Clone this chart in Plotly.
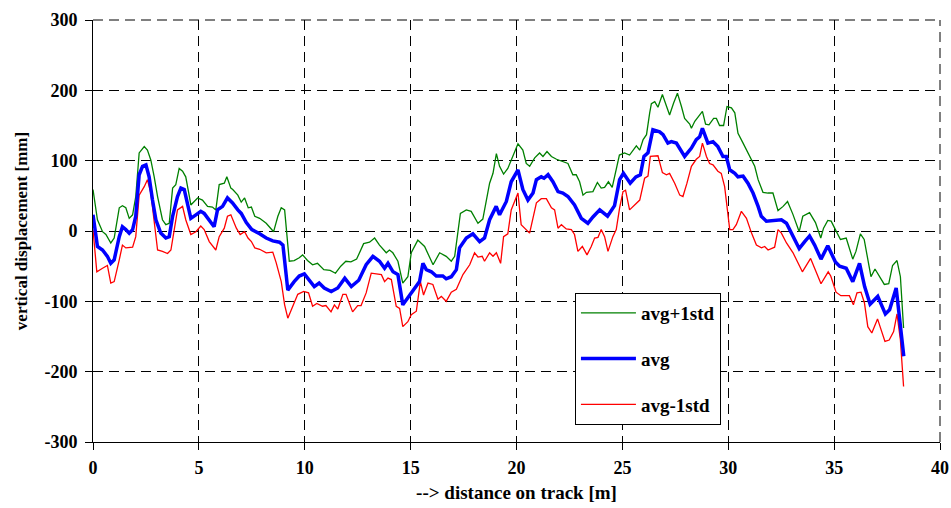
import plotly.graph_objects as go

# avg (blue)
x_avg = [0.0, 0.21, 0.45, 0.68, 0.84, 1.0, 1.24, 1.39, 1.55, 1.71, 1.87, 2.02, 2.18, 2.34, 2.5, 2.65, 2.81, 2.97,
         3.2, 3.44, 3.6, 3.76, 3.99, 4.15, 4.31, 4.46, 4.62, 4.86, 5.09, 5.25, 5.49, 5.72, 5.88, 6.12, 6.35, 6.59,
         6.84, 7.0, 7.24, 7.5, 7.87, 8.18, 8.49, 8.81, 8.97, 9.2, 9.5, 9.74, 9.98, 10.21, 10.45, 10.68, 10.92,
         11.25, 11.56, 11.89, 12.2, 12.55, 12.9, 13.22, 13.53, 13.77, 13.93, 14.17, 14.4, 14.63, 14.87, 15.19,
         15.42, 15.58, 15.74, 15.98, 16.21, 16.52, 16.68, 16.92, 17.16, 17.31, 17.63, 17.94, 18.26, 18.49, 18.73,
         19.04, 19.2, 19.52, 19.75, 20.07, 20.3, 20.54, 20.78, 20.94, 21.17, 21.3, 21.49, 21.72, 21.96, 22.19,
         22.43, 22.74, 23.06, 23.37, 23.61, 23.93, 24.3, 24.63, 24.87, 25.05, 25.37, 25.64, 25.85, 26.02, 26.21,
         26.44, 26.76, 26.92, 27.15, 27.31, 27.55, 27.94, 28.26, 28.49, 28.65, 28.78, 29.04, 29.28, 29.51, 29.75,
         29.91, 30.07, 30.31, 30.46, 30.7, 30.93, 31.17, 31.41, 31.56, 31.8, 32.11, 32.51, 32.75, 33.06, 33.35,
         33.61, 33.84, 34.08, 34.38, 34.7, 35.06, 35.26, 35.57, 35.88, 36.2, 36.44, 36.7, 37.06, 37.42, 37.62,
         37.93, 38.29]
avg = [23, -22, -27, -36, -46, -41, -8, 6, 2, -3, 2, 21, 80, 92, 94, 77, 44, 16,
       -3, -10, -8, 21, 49, 61, 59, 40, 18, 23, 28, 25, 16, 6, 30, 35, 47, 40,
       30, 25, 12, 2, -4, -10, -14, -16, -20, -84, -72, -64, -61, -69, -79, -74, -81,
       -86, -81, -67, -79, -70, -48, -36, -43, -53, -46, -58, -62, -105, -95, -81,
       -72, -46, -55, -58, -64, -64, -68, -65, -55, -24, -10, -4, -15, -10, 16,
       35, 23, 42, 70, 87, 59, 44, 54, 73, 77, 75, 80, 70, 56, 54,
       49, 37, 18, 11, 20, 30, 21, 36, 73, 82, 68, 77, 80, 106, 111,
       144, 141, 137, 125, 127, 125, 106, 118, 130, 134, 146, 125, 127, 120, 106,
       106, 87, 82, 77, 78, 68, 54, 35, 21, 14, 15, 16, 11, -8, -25,
       -15, -7, -20, -40, -21, -44, -50, -53, -72, -46, -79, -104, -93, -118, -112,
       -81, -178]

# avg + 1 std (green)
x_up = [0.0, 0.21, 0.45, 0.61, 0.84, 1.0, 1.24, 1.39, 1.55, 1.71, 1.87, 2.02, 2.18, 2.42, 2.57, 2.73, 2.89, 3.05,
        3.28, 3.44, 3.6, 3.76, 3.91, 4.07, 4.23, 4.38, 4.54, 4.62, 4.94, 5.17, 5.41, 5.64, 5.8, 5.96, 6.2, 6.32,
        6.51, 6.6, 6.84, 7.0, 7.16, 7.33, 7.48, 7.64, 7.87, 8.18, 8.53, 8.73, 8.89, 9.05, 9.27, 9.5, 9.74, 9.9,
        10.13, 10.37, 10.6, 10.9, 11.2, 11.45, 11.7, 11.94, 12.18, 12.45, 12.78, 13.06, 13.3, 13.53, 13.85, 14.0,
        14.16, 14.4, 14.63, 14.87, 15.03, 15.34, 15.66, 16.06, 16.37, 16.68, 16.92, 17.08, 17.35, 17.63, 17.86,
        18.18, 18.41, 18.73, 18.89, 19.05, 19.2, 19.39, 19.59, 19.83, 20.07, 20.3, 20.46, 20.62, 20.86, 21.09,
        21.25, 21.44, 21.65, 21.89, 22.2, 22.43, 22.66, 22.82, 22.98, 23.14, 23.3, 23.61, 23.82, 24.0, 24.16,
        24.34, 24.52, 24.68, 24.86, 25.1, 25.34, 25.66, 25.82, 25.98, 26.14, 26.29, 26.37, 26.53, 26.68, 26.89,
        27.08, 27.23, 27.42, 27.6, 27.79, 27.94, 28.18, 28.26, 28.42, 28.62, 28.78, 28.93, 29.09, 29.31, 29.44,
        29.59, 29.78, 29.94, 30.15, 30.31, 30.46, 30.7, 30.93, 31.25, 31.41, 31.64, 31.88, 32.11, 32.35, 32.59,
        32.8, 33.05, 33.35, 33.52, 33.84, 34.12, 34.37, 34.5, 34.7, 34.86, 35.06, 35.3, 35.57, 35.88, 36.03,
        36.24, 36.42, 36.74, 36.93, 37.14, 37.37, 37.58, 37.76, 37.97, 38.13, 38.28]
upper = [59, 16, -1, -5, -17, -10, 33, 36, 33, 18, 23, 49, 111, 120, 115, 101, 77, 49,
         16, 9, 11, 61, 66, 89, 85, 77, 51, 37, 47, 44, 35, 34, 30, 66, 68, 77,
         61, 59, 51, 41, 47, 33, 34, 21, 18, 11, -1, 21, 33, 30, -43, -42, -38, -34,
         -42, -48, -46, -55, -56, -60, -50, -43, -44, -40, -18, -16, -10, -20, -31, -27,
         -31, -43, -74, -65, -31, -13, -22, -48, -31, -36, -43, -36, 25, 30, 28,
         11, 17, 68, 82, 110, 92, 81, 89, 108, 124, 115, 96, 92, 104, 111,
         106, 113, 106, 102, 98, 96, 80, 80, 70, 51, 55, 56, 69, 61, 62,
         70, 62, 82, 108, 111, 108, 121, 115, 130, 137, 168, 181, 184, 176, 194,
         177, 165, 182, 196, 177, 160, 152, 146, 156, 163, 170, 152, 151, 160, 160,
         150, 150, 177, 175, 168, 139, 125, 111, 92, 73, 55, 54, 54, 29, 35,
         42, 24, -1, 21, 26, 12, -10, 4, 15, 14, 2, -12, -10, -40, -29,
         -4, -12, -65, -54, -65, -76, -75, -49, -42, -65, -138]

# avg - 1 std (red)
x_low = [0.0, 0.18, 0.45, 0.68, 0.84, 1.0, 1.24, 1.39, 1.55, 1.87, 2.02, 2.18, 2.42, 2.57, 2.73, 2.89, 3.05, 3.28,
         3.52, 3.68, 3.84, 3.99, 4.23, 4.38, 4.62, 4.86, 5.09, 5.25, 5.49, 5.8, 5.96, 6.2, 6.35, 6.51, 6.77, 6.95,
         7.16, 7.32, 7.48, 7.64, 7.87, 8.18, 8.49, 8.65, 8.89, 9.05, 9.2, 9.43, 9.67, 9.95, 10.18, 10.37, 10.57,
         10.84, 11.0, 11.24, 11.4, 11.56, 11.8, 11.95, 12.26, 12.5, 12.66, 12.9, 13.14, 13.38, 13.62, 13.77, 13.93,
         14.09, 14.32, 14.48, 14.63, 14.87, 15.03, 15.27, 15.46, 15.61, 15.82, 16.05, 16.29, 16.45, 16.68, 16.92,
         17.16, 17.47, 17.79, 18.02, 18.18, 18.38, 18.49, 18.73, 18.89, 19.05, 19.25, 19.39, 19.59, 19.75, 20.07,
         20.22, 20.62, 20.94, 21.17, 21.41, 21.65, 21.8, 21.96, 22.12, 22.35, 22.59, 22.74, 22.9, 23.11, 23.33,
         23.53, 23.69, 23.85, 24.0, 24.16, 24.32, 24.55, 24.71, 24.87, 25.03, 25.15, 25.34, 25.58, 25.82, 26.05,
         26.21, 26.32, 26.68, 26.89, 27.08, 27.23, 27.47, 27.71, 27.86, 28.05, 28.26, 28.49, 28.65, 28.78, 28.97,
         29.12, 29.28, 29.51, 29.67, 29.83, 29.96, 30.07, 30.22, 30.38, 30.62, 30.86, 31.1, 31.33, 31.57, 31.72,
         31.88, 32.19, 32.35, 32.51, 32.75, 33.06, 33.5, 33.89, 34.38, 34.72, 34.84, 35.09, 35.32, 35.72, 35.91,
         36.08, 36.27, 36.43, 36.59, 36.78, 37.05, 37.4, 37.6, 37.81, 37.97, 38.13, 38.28]
lower = [2, -58, -53, -49, -74, -72, -41, -20, -24, -23, -8, 51, 63, 73, 54, 16, -27, -29,
         -32, -27, 6, 30, 35, 16, -5, -1, 7, 2, -15, -27, -8, 4, 21, 23, 4, -5,
         -1, -10, -15, -24, -26, -31, -30, -45, -72, -105, -124, -108, -90, -86, -88, -107, -103,
         -107, -106, -115, -105, -111, -90, -90, -115, -106, -106, -88, -60, -61, -62, -72, -67,
         -69, -107, -110, -136, -129, -119, -114, -72, -91, -74, -76, -97, -93, -100, -87,
         -83, -62, -48, -31, -37, -36, -43, -31, -36, -31, -46, -8, -4, 30, 54,
         9, -3, 40, 46, 46, 33, 30, 4, 9, 3, 2, -5, -29, -22, -34,
         -22, -10, -9, 2, -8, -29, -8, 2, 33, 56, 58, 30, 37, 44, 75,
         78, 106, 107, 83, 80, 82, 68, 51, 49, 68, 92, 102, 106, 125, 106,
         96, 94, 85, 82, 63, 30, 2, 2, 9, 28, 18, -3, -20, -24, -22,
         -27, -23, 2, -3, -17, -31, -58, -39, -75, -58, -64, -87, -92, -92, -105,
         -88, -87, -102, -136, -145, -125, -157, -155, -143, -118, -155, -221]

x_ticks = [0, 5, 10, 15, 20, 25, 30, 35, 40]
y_ticks = [-300, -200, -100, 0, 100, 200, 300]

FONT = "'Liberation Serif', 'DejaVu Serif', serif"
GRIDDASH = "10px,6px"

fig = go.Figure()
fig.add_trace(go.Scatter(x=x_up, y=upper, mode="lines", name="<b>avg+1std</b>",
                         line=dict(color="#008000", width=1.3), legendgroup="a", legendrank=1))
fig.add_trace(go.Scatter(x=x_low, y=lower, mode="lines", name="<b>avg-1std</b>",
                         line=dict(color="#FF0000", width=1.3), legendgroup="c", legendrank=3))
fig.add_trace(go.Scatter(x=x_avg, y=avg, mode="lines", name="<b>avg</b>",
                         line=dict(color="#0000FF", width=3.5), legendgroup="b", legendrank=2))

axis_common = dict(showgrid=True, gridcolor="black", griddash=GRIDDASH, gridwidth=1,
                   showline=True, linecolor="black", linewidth=1, mirror=False,
                   ticks="outside", ticklen=7, tickcolor="black", zeroline=False,
                   automargin=False, tickfont=dict(family=FONT, size=18, color="black"))

fig.update_layout(
    width=951, height=508,
    margin=dict(l=93, r=11, t=20, b=66),
    paper_bgcolor="white", plot_bgcolor="white",
    font=dict(family=FONT, size=16, color="black"),
    showlegend=True,
    legend=dict(x=0.569, y=0.353, xanchor="left", yanchor="top",
                bgcolor="white", bordercolor="black", borderwidth=1,
                font=dict(family=FONT, size=19, color="black"),
                tracegroupgap=18, traceorder="grouped", itemwidth=55),
    xaxis=dict(range=[0, 40], tickvals=x_ticks, ticktext=[f"<b>{v}</b>" for v in x_ticks],
               ticklabelstandoff=2,
               title=dict(text="<b>--> distance on track [m]</b>", font=dict(family=FONT, size=19), standoff=9),
               **axis_common),
    yaxis=dict(range=[-300, 300], tickvals=y_ticks, ticktext=[f"<b>{v}</b>" for v in y_ticks],
               ticklabelstandoff=4,
               title=dict(text="<b>vertical displacement [mm]</b>", font=dict(family=FONT, size=17), standoff=12),
               **axis_common),
    shapes=[
        dict(type="line", xref="paper", yref="paper", x0=0, x1=1, y0=1, y1=1,
             line=dict(color="black", width=1, dash=GRIDDASH), layer="below"),
        dict(type="line", xref="paper", yref="paper", x0=1, x1=1, y0=0, y1=1,
             line=dict(color="black", width=1, dash=GRIDDASH), layer="below"),
    ],
)

fig.write_html("out.html", config={"displayModeBar": False},
               post_script="document.body.style.margin='0px';")
